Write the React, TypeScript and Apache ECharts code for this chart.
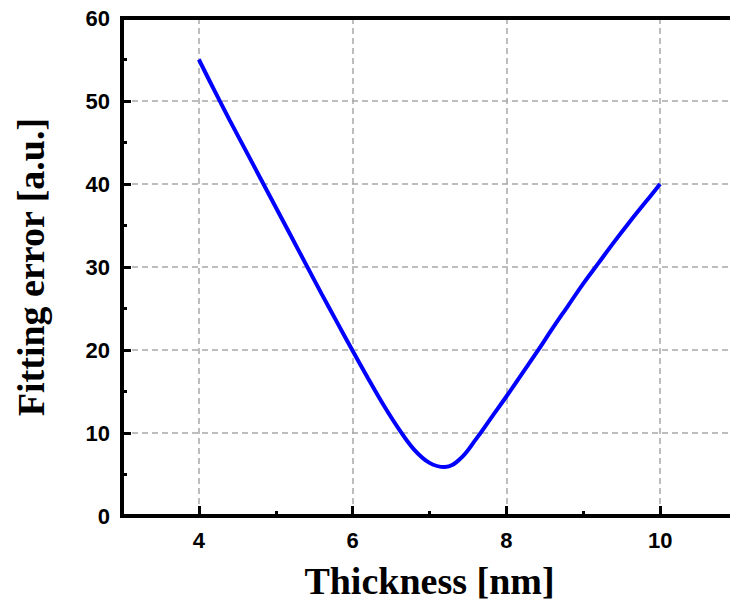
import React, { useEffect, useRef } from "react";
import * as echarts from "echarts";

const thicknessNm = [
  4.0, 4.2, 4.4, 4.6, 4.8, 5.0, 5.2, 5.4, 5.6, 5.8, 6.0, 6.2, 6.4, 6.6, 6.8,
  7.0, 7.2, 7.4, 7.6, 7.8, 8.0, 8.2, 8.4, 8.6, 8.8, 9.0, 9.2, 9.4, 9.6, 9.8,
  10.0,
];
const fittingError = [
  55.0, 51.3, 47.7, 44.2, 40.7, 37.2, 33.7, 30.2, 26.7, 23.3, 19.9, 16.6,
  13.4, 10.5, 8.0, 6.4, 5.9, 6.9, 9.2, 11.8, 14.4, 17.1, 19.8, 22.6, 25.3,
  28.0, 30.5, 33.0, 35.4, 37.7, 40.0,
];
const xMajorTicks = [4, 6, 8, 10];
const xMinorTicks = [5, 7, 9];

export default function App() {
  const ref = useRef<HTMLDivElement>(null);
  useEffect(() => {
    if (!ref.current) return;
    const chart = echarts.init(ref.current, null, { renderer: "svg" });
    const tickFont = {
      fontFamily: "Liberation Sans, Arial, sans-serif",
      fontWeight: "bold" as const,
      fontSize: 22,
      color: "#000",
    };
    const nameFont = {
      fontFamily: "Liberation Serif, Times New Roman, serif",
      fontWeight: "bold" as const,
      fontSize: 38,
      color: "#000",
    };
    const gridLine = {
      show: true,
      lineStyle: { color: "#a8a8a8", width: 1.5, type: [6, 4] as number[] },
    };
    chart.setOption({
      animation: false,
      backgroundColor: "#fff",
      grid: {
        left: 122,
        top: 18,
        width: 615,
        height: 498,
        containLabel: false,
        outerBoundsMode: "none",
      },
      xAxis: [
        {
          type: "value",
          min: 3,
          max: 11,
          position: "bottom",
          name: "Thickness [nm]",
          nameLocation: "middle",
          nameGap: 46,
          nameTextStyle: nameFont,
          axisLine: { show: true, lineStyle: { color: "#000", width: 4, cap: "square" } },
          axisTick: {
            show: true,
            inside: true,
            length: 10,
            customValues: xMajorTicks,
            lineStyle: { color: "#000", width: 3 },
          },
          axisLabel: { ...tickFont, margin: 13, customValues: xMajorTicks },
          splitLine: gridLine,
        },
        {
          type: "value",
          min: 3,
          max: 11,
          position: "bottom",
          axisLine: { show: false },
          axisTick: {
            show: true,
            inside: true,
            length: 5,
            customValues: xMinorTicks,
            lineStyle: { color: "#000", width: 3 },
          },
          axisLabel: { show: false },
          splitLine: { show: false },
        },
        {
          type: "value",
          min: 3,
          max: 11,
          position: "top",
          axisLine: { show: true, lineStyle: { color: "#000", width: 4, cap: "square" } },
          axisTick: { show: false },
          axisLabel: { show: false },
          splitLine: { show: false },
        },
      ],
      yAxis: [
        {
          type: "value",
          min: 0,
          max: 60,
          interval: 10,
          position: "left",
          name: "Fitting error [a.u.]",
          nameLocation: "middle",
          nameGap: 72,
          nameTextStyle: nameFont,
          axisLine: { show: true, lineStyle: { color: "#000", width: 4, cap: "square" } },
          axisTick: {
            show: true,
            inside: true,
            length: 9,
            lineStyle: { color: "#000", width: 3 },
          },
          minorTick: {
            show: true,
            splitNumber: 2,
            length: 5,
            lineStyle: { color: "#000", width: 3 },
          },
          axisLabel: { ...tickFont, margin: 12 },
          splitLine: gridLine,
        },
      ],
      series: [
        {
          type: "line",
          xAxisIndex: 0,
          yAxisIndex: 0,
          data: thicknessNm.map((x, i) => [x, fittingError[i]]),
          smooth: 0.4,
          showSymbol: false,
          lineStyle: { color: "#0000ff", width: 4 },
          itemStyle: { color: "#0000ff" },
        },
      ],
    });
    return () => chart.dispose();
  }, []);
  return (
    <div
      ref={ref}
      style={{ position: "fixed", left: 0, top: 0, width: 730, height: 613, background: "#fff" }}
    />
  );
}
